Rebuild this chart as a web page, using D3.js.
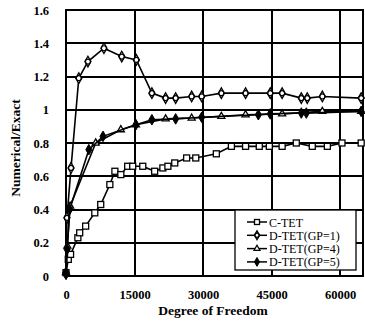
<!DOCTYPE html>
<html>
<head>
<meta charset="utf-8">
<script src="https://cdn.jsdelivr.net/npm/d3@7"></script>
<style>
  body { margin: 0; background: #fff; }
  text { font-family: "Liberation Serif", "DejaVu Serif", serif; font-weight: bold; fill: #000; }
</style>
</head>
<body>
<div id="chart"></div>
<script>
const width = 365;
const height = 327;
const margin = {top: 10, right: 2, bottom: 51, left: 66};

const xTicks = [0, 15000, 30000, 45000, 60000];
const yTicks = [0, 0.2, 0.4, 0.6, 0.8, 1, 1.2, 1.4, 1.6];
const seriesNames = ["C-TET", "D-TET(GP=1)", "D-TET(GP=4)", "D-TET(GP=5)"];

// [degree of freedom, numerical/exact]
const cTet = [[0, 0.02], [500, 0.10], [1000, 0.13], [2600, 0.23], [3000, 0.26], [4300, 0.30],
  [6300, 0.38], [7600, 0.43], [9600, 0.55], [10700, 0.63], [12000, 0.61], [13500, 0.66],
  [14600, 0.66], [16800, 0.66], [19400, 0.63], [21200, 0.65], [22300, 0.66], [23800, 0.68],
  [26400, 0.71], [28400, 0.71], [32900, 0.735], [36200, 0.78], [39300, 0.78], [42300, 0.78],
  [44500, 0.78], [47300, 0.78], [50400, 0.80], [53900, 0.78], [57200, 0.78], [60400, 0.80],
  [64600, 0.80]];
const dTetGp1 = [[0, 0.02], [200, 0.35], [1100, 0.65], [2800, 1.19], [4800, 1.29], [8300, 1.37],
  [12200, 1.32], [15400, 1.30], [18800, 1.10], [21800, 1.07], [24000, 1.07], [27500, 1.08],
  [29700, 1.08], [34000, 1.10], [39300, 1.10], [44700, 1.10], [47300, 1.10], [51500, 1.07],
  [52800, 1.07], [56100, 1.08], [64600, 1.07]];
const dTetGp4 = [[0, 0.02], [300, 0.18], [900, 0.42], [6500, 0.80], [12000, 0.88], [15300, 0.91],
  [21800, 0.945], [27500, 0.95], [34000, 0.96], [39300, 0.97], [47300, 0.975], [56100, 0.99],
  [64600, 0.99]];
const dTetGp5 = [[0, 0.01], [250, 0.16], [800, 0.40], [5000, 0.76], [8100, 0.84], [15300, 0.91],
  [18800, 0.94], [24000, 0.945], [29700, 0.955], [42100, 0.97], [44700, 0.975], [51500, 0.98],
  [52600, 0.98], [64600, 0.99]];

const allSeries = [cTet, dTetGp1, dTetGp4, dTetGp5];
const markers = ["square", "diamond", "triangle", "filled"];

const svg = d3.select("#chart")
    .append("svg")
    .attr("width", width)
    .attr("height", height);

const x = d3.scaleLinear().domain([0, 65000]).range([margin.left, width - margin.right]);
const y = d3.scaleLinear().domain([0, 1.6]).range([height - margin.bottom, margin.top]);

// grid
svg.append("g")
    .selectAll("line")
    .data(yTicks)
    .enter()
    .append("line")
    .attr("x1", x(0)).attr("x2", x(65000))
    .attr("y1", d => Math.round(y(d))).attr("y2", d => Math.round(y(d)))
    .attr("stroke", "#000").attr("stroke-width", 2);

svg.append("g")
    .selectAll("line")
    .data(xTicks)
    .enter()
    .append("line")
    .attr("x1", d => Math.round(x(d))).attr("x2", d => Math.round(x(d)))
    .attr("y1", y(0)).attr("y2", y(1.6))
    .attr("stroke", "#000").attr("stroke-width", 2);

svg.append("rect")
    .attr("x", x(0)).attr("y", y(1.6))
    .attr("width", x(65000) - x(0)).attr("height", y(0) - y(1.6))
    .attr("fill", "none").attr("stroke", "#000").attr("stroke-width", 2);

// axes (labels only)
const xAxis = svg.append("g")
    .attr("transform", `translate(0,${y(0)})`)
    .call(d3.axisBottom(x).tickValues(xTicks).tickSize(0).tickPadding(14).tickFormat(d3.format("d")));
const yAxis = svg.append("g")
    .attr("transform", `translate(${x(0)},0)`)
    .call(d3.axisLeft(y).tickValues(yTicks).tickSize(0).tickPadding(17).tickFormat(d => String(d)));
[xAxis, yAxis].forEach(a => {
  a.select(".domain").remove();
  a.selectAll("text").attr("font-family", null).style("font-size", "12.5px");
});

svg.append("text")
    .attr("x", 213).attr("y", 315)
    .attr("text-anchor", "middle")
    .style("font-size", "13.5px")
    .text("Degree of Freedom");

svg.append("text")
    .attr("transform", "translate(20,148) rotate(-90)")
    .attr("text-anchor", "middle")
    .style("font-size", "13.5px")
    .text("Numerical/Exact");

// series
const line = d3.line().x(d => x(d[0])).y(d => y(d[1]));

function drawMarker(g, type, size) {
  const s = size;
  if (type === "square") {
    g.append("rect").attr("x", -s / 2).attr("y", -s / 2).attr("width", s).attr("height", s)
      .attr("fill", "#fff").attr("stroke", "#000").attr("stroke-width", 1.3);
  } else if (type === "diamond") {
    g.append("path").attr("d", d3.symbol(d3.symbolDiamond, s * s * 0.9)())
      .attr("fill", "#fff").attr("stroke", "#000").attr("stroke-width", 1.3);
    g.append("circle").attr("r", s / 2.4).attr("fill", "none").attr("stroke", "#000").attr("stroke-width", 1.2);
  } else if (type === "triangle") {
    g.append("path").attr("d", d3.symbol(d3.symbolTriangle, s * s * 0.6)())
      .attr("fill", "#fff").attr("stroke", "#000").attr("stroke-width", 1.3);
  } else {
    g.append("path").attr("d", d3.symbol(d3.symbolDiamond, s * s * 0.9)())
      .attr("fill", "#000").attr("stroke", "#000").attr("stroke-width", 1);
  }
}

allSeries.forEach((data, i) => {
  svg.append("path")
      .datum(data)
      .attr("d", line)
      .attr("fill", "none")
      .attr("stroke", "#000")
      .attr("stroke-width", 1.6);

  svg.append("g")
      .selectAll("g")
      .data(data)
      .enter()
      .append("g")
      .attr("transform", d => `translate(${x(d[0])},${y(d[1])})`)
      .each(function() { drawMarker(d3.select(this), markers[i], 6); });
});

// legend
const legend = svg.append("g").attr("transform", "translate(235,210)");
legend.append("rect")
    .attr("width", 121).attr("height", 60)
    .attr("fill", "#fff").attr("stroke", "#000").attr("stroke-width", 1.3);

const item = legend.selectAll(".legend")
    .data(seriesNames)
    .enter()
    .append("g")
    .attr("class", "legend")
    .attr("transform", (d, i) => `translate(0,${12 + i * 13.3})`);

item.append("line")
    .attr("x1", 12).attr("x2", 32)
    .attr("stroke", "#000").attr("stroke-width", 1.5);
item.append("g")
    .attr("transform", "translate(22,0)")
    .each(function(d, i) { drawMarker(d3.select(this), markers[i], 5); });
item.append("text")
    .attr("x", 34).attr("y", 4.5)
    .style("font-size", "12px")
    .style("font-weight", "normal")
    .text(d => d);
</script>
</body>
</html>
